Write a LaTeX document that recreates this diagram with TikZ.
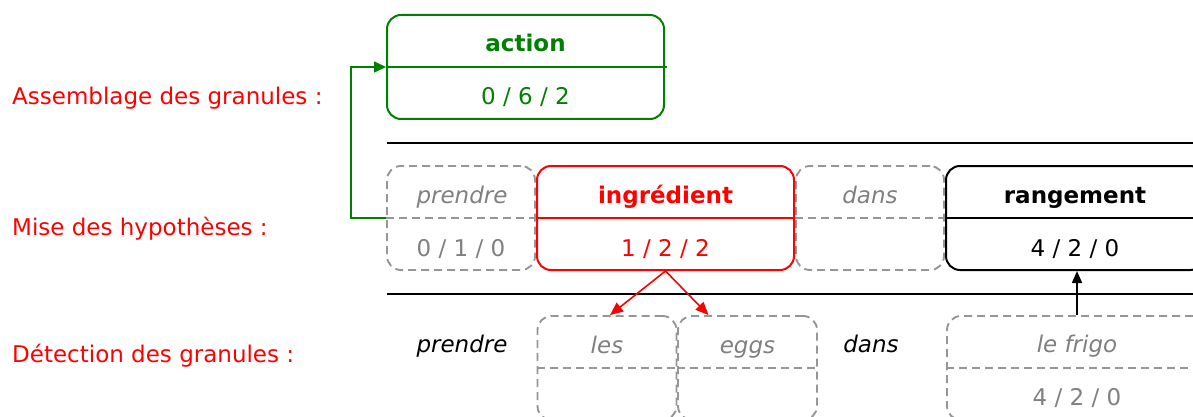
\documentclass[tikz,border=0pt]{standalone}
\usepackage{fontspec}
\setmainfont{DejaVu Sans}
\usetikzlibrary{arrows.meta}
\definecolor{mygreen}{RGB}{0,128,0}
\definecolor{ghostline}{RGB}{150,150,150}
\definecolor{ghosttext}{RGB}{128,128,128}
\begin{document}
\begin{tikzpicture}[x=1pt,y=-1pt,
  every node/.style={font=\fontsize{23}{27}\selectfont, inner sep=0pt},
  box/.style={draw, rounded corners=14pt, minimum height=104pt, line width=2pt},
  ghost/.style={box, draw=ghostline, line width=1.9pt, dash pattern=on 8pt off 5pt},
  divider/.style={line width=1.7pt},
  ghostdiv/.style={ghostline, line width=1.9pt, dash pattern=on 8pt off 5pt},
  lbl/.style={anchor=base west, text=red},
  txt/.style={anchor=base},
  sep/.style={line width=2pt},
  conn/.style={line width=1.6pt, -{Triangle[length=13pt,width=11pt]}},
  ]
\useasboundingbox (0,0) rectangle (1193,417);

% left labels
\node[lbl] (l1) at (12,105) {Assemblage des granules :};
\node[lbl] (l2) at (12,235) {Mise des hypothèses :};
\node[lbl] (l3) at (12,362) {Détection des granules :};

% separators
\coordinate (s1a) at (387,143); \coordinate (s1b) at (1193,143);
\coordinate (s2a) at (387,294); \coordinate (s2b) at (1193,294);
\draw[sep] (s1a) -- (s1b);
\draw[sep] (s2a) -- (s2b);

% action box
\node[box, draw=mygreen, minimum width=277pt] (act) at (525.5,67) {};
\draw[divider, mygreen] (act.west) -- ([xshift=2pt]act.east);
\node[txt, text=mygreen, font=\fontsize{23}{27}\selectfont\bfseries] (actt) at (525.5,52) {action};
\node[txt, text=mygreen] (actv) at (525.5,105) {0 / 6 / 2};

% hypothesis row
\node[ghost, minimum width=148pt] (p1) at (461,218) {};
\draw[ghostdiv] (p1.west) -- (p1.east);
\node[txt, text=ghosttext, font=\fontsize{23}{27}\selectfont\itshape] (p1t) at (462,203) {prendre};
\node[txt, text=ghosttext] (p1v) at (461,256) {0 / 1 / 0};

\node[ghost, minimum width=148pt] (d1) at (870,218) {};
\draw[ghostdiv] (d1.west) -- (d1.east);
\node[txt, text=ghosttext, font=\fontsize{23}{27}\selectfont\itshape] (d1t) at (870,203) {dans};

\node[box, draw=red, minimum width=257pt] (ing) at (665.5,218) {};
\draw[divider, red] (ing.west) -- (ing.east);
\node[txt, text=red, font=\fontsize{23}{27}\selectfont\bfseries] (ingt) at (665.5,203) {ingrédient};
\node[txt, text=red] (ingv) at (665.5,256) {1 / 2 / 2};

\node[box, draw=black, minimum width=258pt] (rang) at (1075,218) {};
\draw[divider] (rang.west) -- (rang.east);
\node[txt, font=\fontsize{23}{27}\selectfont\bfseries] (rangt) at (1075,203) {rangement};
\node[txt] (rangv) at (1075,256) {4 / 2 / 0};

% detection row
\node[txt, font=\fontsize{23}{27}\selectfont\itshape] (w1) at (462,352) {prendre};
\node[txt, font=\fontsize{23}{27}\selectfont\itshape] (w2) at (871,352) {dans};

\node[ghost, minimum width=139pt] (les) at (607,368) {};
\draw[ghostdiv] (les.west) -- (les.east);
\node[txt, text=ghosttext, font=\fontsize{23}{27}\selectfont\itshape] (lest) at (607,353) {les};

\node[ghost, minimum width=139pt] (eggs) at (747.5,368) {};
\draw[ghostdiv] (eggs.west) -- (eggs.east);
\node[txt, text=ghosttext, font=\fontsize{23}{27}\selectfont\itshape] (eggst) at (747.5,353) {eggs};

\node[ghost, minimum width=260pt] (frigo) at (1077,368) {};
\draw[ghostdiv] (frigo.west) -- (frigo.east);
\node[txt, text=ghosttext, font=\fontsize{23}{27}\selectfont\itshape] (frigot) at (1077,352) {le frigo};
\node[txt, text=ghosttext] (frigov) at (1077,405) {4 / 2 / 0};

% connectors
\draw[conn, mygreen, -{Triangle[length=12pt,width=11pt]}] (p1.west) -- ++(-35,0) |- (act.west);
\draw[conn, red] (ing.south) -- ([xshift=3pt]les.north);
\draw[conn, red] (ing.south) -- ([xshift=-39pt]eggs.north);
\draw[conn, -{Triangle[length=12pt,width=10pt]}] (frigo.north) -- (frigo.north |- rang.south);
\end{tikzpicture}
\end{document}
